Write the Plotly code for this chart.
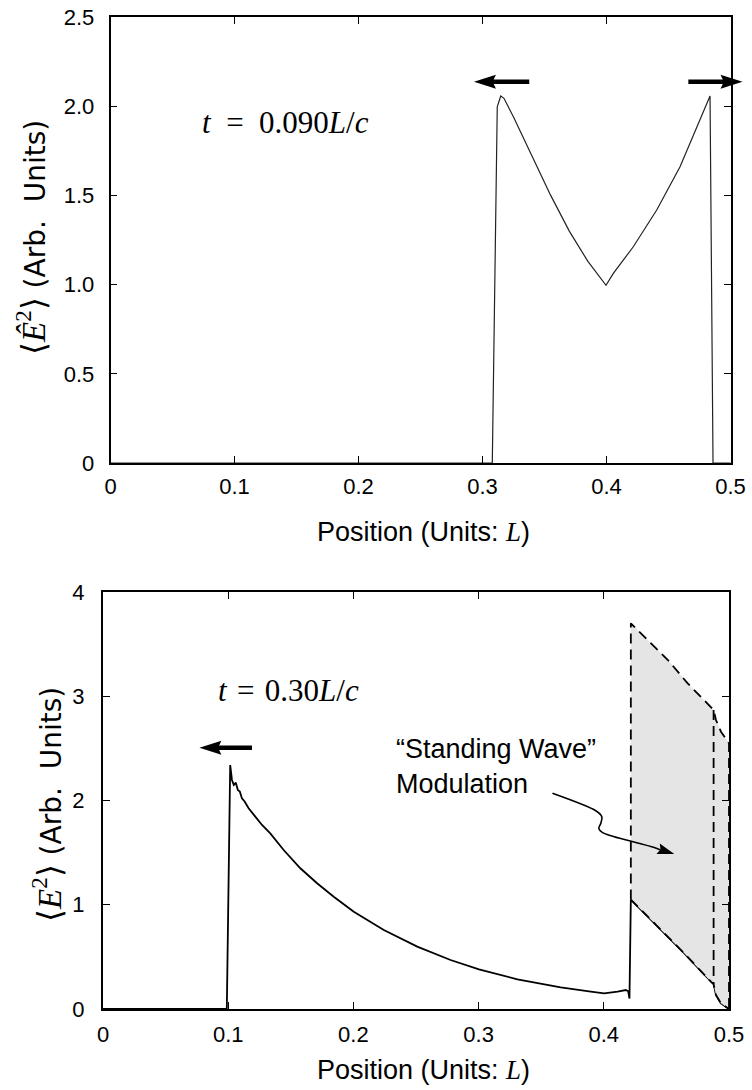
import math
import plotly.graph_objects as go

W, H = 752, 1090

# ---------------- data: top panel (t = 0.090 L/c) ----------------
top_x = [0.0, 0.3079, 0.3119, 0.3147, 0.3173, 0.325, 0.34, 0.355, 0.37, 0.385, 0.3996,
         0.4055, 0.4216, 0.4405, 0.4593, 0.4727, 0.4835, 0.4859, 0.5]
top_y = [0.0, 0.0, 1.997, 2.057, 2.044, 1.94, 1.72, 1.50, 1.30, 1.13, 0.996,
         1.063, 1.212, 1.418, 1.661, 1.885, 2.057, 0.0, 0.0]

# ---------------- data: bottom panel (t = 0.30 L/c) ----------------
bot_x = [0.0, 0.0989, 0.1016, 0.103, 0.1045, 0.1061, 0.1077, 0.1093, 0.111, 0.1131,
         0.1163, 0.1216, 0.127, 0.1336, 0.1443, 0.1576, 0.171, 0.1843, 0.2003, 0.2243,
         0.251, 0.2776, 0.3003, 0.331, 0.3656, 0.3896, 0.4003, 0.411, 0.4176, 0.4195,
         0.4205]
bot_y = [0.0, 0.0, 2.34, 2.197, 2.149, 2.171, 2.10, 2.085, 2.02, 1.99,
         1.925, 1.845, 1.765, 1.685, 1.525, 1.35, 1.206, 1.077, 0.933, 0.758,
         0.598, 0.47, 0.381, 0.285, 0.208, 0.166, 0.15, 0.166, 0.182, 0.17,
         0.10]

# lower / upper envelopes of the "standing wave" modulation
low_x = [0.4216, 0.4376, 0.4643, 0.4856, 0.4877, 0.4896, 0.4936, 0.5]
low_y = [1.05, 0.854, 0.534, 0.262, 0.24, 0.134, 0.054, 0.0]
up_x = [0.4216, 0.435, 0.451, 0.467, 0.4877, 0.4896, 0.4936, 0.5]
up_y = [3.70, 3.54, 3.35, 3.124, 2.868, 2.772, 2.66, 2.549]

# annotation pointer curve (ends at the arrow tip)
ptr_x = [0.359, 0.3936, 0.3984, 0.3976, 0.396, 0.399, 0.4083, 0.443, 0.4563]
ptr_y = [2.069, 1.902, 1.845, 1.781, 1.733, 1.691, 1.653, 1.538, 1.487]

# propagation arrows: (tail x, tip x, y)
top_arrows = [(0.3377, 0.2931, 2.137), (0.466, 0.5097, 2.137)]
bot_arrows = [(0.119, 0.077, 2.507)]

top_xticks = [0, 0.1, 0.2, 0.3, 0.4, 0.5]
top_xlabels = ["0", "0.1", "0.2", "0.3", "0.4", "0.5"]
top_yticks = [0, 0.5, 1.0, 1.5, 2.0, 2.5]
top_ylabels = ["0", "0.5", "1.0", "1.5", "2.0", "2.5"]
bot_yticks = [0, 1, 2, 3, 4]
bot_ylabels = ["0", "1", "2", "3", "4"]

SANS = "Liberation Sans, Arial, sans-serif"
SERIF = "Liberation Serif, DejaVu Serif, serif"
DASH = "10px,6px"

# plot-area boxes in pixels (left, right, top, bottom)
TOP_BOX = (110.5, 730.5, 17.0, 463.0)
BOT_BOX = (103.0, 729.0, 592.0, 1009.0)
TOP_RANGE = ([0, 0.5], [0, 2.5])
BOT_RANGE = ([0, 0.5], [0, 4])

def dom(box):
    l, r, t, b = box
    return [l / W, r / W], [1 - b / H, 1 - t / H]

def to_px(box, rng, x, y):
    l, r, t, b = box
    (x0, x1), (y0, y1) = rng
    return l + (x - x0) / (x1 - x0) * (r - l), b - (y - y0) / (y1 - y0) * (b - t)

fig = go.Figure()

fig.add_trace(go.Scatter(x=top_x, y=top_y, mode="lines", xaxis="x", yaxis="y",
                         line=dict(color="#222", width=1.2), showlegend=False,
                         hoverinfo="skip"))

# bottom: solid curve (continues along lower envelope)
fig.add_trace(go.Scatter(x=bot_x + low_x, y=bot_y + low_y, mode="lines",
                         xaxis="x2", yaxis="y2",
                         line=dict(color="black", width=1.8), showlegend=False,
                         hoverinfo="skip"))
# shaded modulation band
fig.add_trace(go.Scatter(x=up_x + low_x[::-1], y=up_y + low_y[::-1], mode="lines",
                         fill="toself", fillcolor="#e5e5e5",
                         line=dict(width=0, color="rgba(0,0,0,0)"),
                         xaxis="x2", yaxis="y2", showlegend=False, hoverinfo="skip"))
# dashed envelopes
fig.add_trace(go.Scatter(x=[low_x[0]] + up_x + [up_x[-1]], y=[low_y[0]] + up_y + [low_y[-1]],
                         mode="lines", xaxis="x2", yaxis="y2",
                         line=dict(color="black", width=1.8, dash=DASH),
                         showlegend=False, hoverinfo="skip"))
fig.add_trace(go.Scatter(x=low_x, y=low_y, mode="lines", xaxis="x2", yaxis="y2",
                         line=dict(color="black", width=1.8, dash=DASH),
                         showlegend=False, hoverinfo="skip"))
fig.add_trace(go.Scatter(x=[up_x[4], low_x[4]], y=[up_y[4], low_y[4]], mode="lines",
                         xaxis="x2", yaxis="y2",
                         line=dict(color="black", width=1.8, dash=DASH),
                         showlegend=False, hoverinfo="skip"))
# pointer curve
fig.add_trace(go.Scatter(x=ptr_x[:-1] + [ptr_x[-1] - 0.006], y=ptr_y[:-1] + [ptr_y[-1] + 0.006],
                         mode="lines", xaxis="x2", yaxis="y2",
                         line=dict(color="black", width=1.6, shape="spline", smoothing=0.8),
                         showlegend=False, hoverinfo="skip"))

shapes = []

def head_shape(tip, prev, length, half):
    """filled triangular arrow head in paper coordinates (pixel geometry)."""
    tx, ty = tip
    dx, dy = tip[0] - prev[0], tip[1] - prev[1]
    d = math.hypot(dx, dy)
    ux, uy = dx / d, dy / d
    bx, by = tx - ux * length, ty - uy * length
    nx, ny = -uy, ux
    notch = 0.15 * length
    pts = [(tx, ty), (bx + nx * half, by + ny * half), (bx + ux * notch, by + uy * notch),
           (bx - nx * half, by - ny * half)]
    path = "M " + " L ".join(f"{px / W:.5f},{1 - py / H:.5f}" for px, py in pts) + " Z"
    return dict(type="path", xref="paper", yref="paper", path=path,
                fillcolor="black", line=dict(width=0), layer="above")

def add_arrows(arrows, box, rng):
    for tail, tip, yy in arrows:
        tpx = to_px(box, rng, tail, yy)
        hpx = to_px(box, rng, tip, yy)
        sgn = 1 if hpx[0] > tpx[0] else -1
        base_x = hpx[0] - sgn * 18
        shapes.append(dict(type="line", xref="paper", yref="paper",
                           x0=tpx[0] / W, x1=base_x / W, y0=1 - tpx[1] / H, y1=1 - tpx[1] / H,
                           line=dict(color="black", width=4.5), layer="above"))
        shapes.append(head_shape(hpx, tpx, 22, 7))

add_arrows(top_arrows, TOP_BOX, TOP_RANGE)
add_arrows(bot_arrows, BOT_BOX, BOT_RANGE)
shapes.append(head_shape(to_px(BOT_BOX, BOT_RANGE, ptr_x[-1], ptr_y[-1]),
                         to_px(BOT_BOX, BOT_RANGE, ptr_x[-2], ptr_y[-2]), 17, 5.5))

def axis(domain, rng, tv, tt, anchor, lw, standoff):
    return dict(domain=domain, range=rng, tickvals=tv, ticktext=tt, anchor=anchor,
                showline=True, mirror="ticks", linecolor="black", linewidth=lw,
                ticks="inside", ticklen=7, tickwidth=1.2, tickcolor="black",
                showgrid=False, zeroline=False, fixedrange=True, automargin=False,
                ticklabelstandoff=standoff,
                tickfont=dict(family=SANS, size=22, color="black"))

tdx, tdy = dom(TOP_BOX)
bdx, bdy = dom(BOT_BOX)
fig.update_layout(
    width=W, height=H, margin=dict(l=0, r=0, t=0, b=0, pad=0, autoexpand=False),
    paper_bgcolor="white", plot_bgcolor="white",
    xaxis=axis(tdx, TOP_RANGE[0], top_xticks, top_xlabels, "y", 1.5, 3),
    yaxis=axis(tdy, TOP_RANGE[1], top_yticks, top_ylabels, "x", 1.5, 10),
    xaxis2=axis(bdx, BOT_RANGE[0], top_xticks, top_xlabels, "y2", 2, 5),
    yaxis2=axis(bdy, BOT_RANGE[1], bot_yticks, bot_ylabels, "x2", 2, 12),
    shapes=shapes,
)

ann = []
# axis titles
for yc in (532, 1070):
    ann.append(dict(xref="paper", yref="paper", x=423 / W, y=1 - yc / H,
                    text='Position (Units: <span style="font-family:Liberation Serif"><i>L</i></span>)',
                    showarrow=False, xanchor="center", yanchor="middle",
                    font=dict(family=SANS, size=27, color="black")))
MATH = '<span style="font-family:Liberation Serif;font-size:33px">\u27e8<i>{}</i><sup>2</sup>\u27e9</span>'
ann.append(dict(xref="paper", yref="paper", x=31 / W, y=1 - 238 / H, textangle=-90,
                text=MATH.format("\u00ca") + " (Arb.\u00a0 Units)",
                showarrow=False, xanchor="center", yanchor="middle",
                font=dict(family="DejaVu Sans, sans-serif", size=28, color="black")))
ann.append(dict(xref="paper", yref="paper", x=47 / W, y=1 - 805 / H, textangle=-90,
                text=MATH.format("E") + " (Arb.\u00a0 Units)",
                showarrow=False, xanchor="center", yanchor="middle",
                font=dict(family="DejaVu Sans, sans-serif", size=28, color="black")))
# time labels
ann.append(dict(xref="x", yref="y", x=0.0722, y=1.911, xanchor="left", yanchor="middle",
                text="<i>t</i>\u2002=\u20020.090<i>L</i>/<i>c</i>", showarrow=False,
                font=dict(family=SERIF, size=31, color="black")))
ann.append(dict(xref="x2", yref="y2", x=0.0904, y=3.06, xanchor="left", yanchor="middle",
                text="<i>t</i>\u2004=\u20040.30<i>L</i>/<i>c</i>", showarrow=False,
                font=dict(family=SERIF, size=31, color="black")))
# modulation label
ann.append(dict(xref="x2", yref="y2", x=0.2328, y=2.33, xanchor="left", yanchor="middle",
                align="left", text="\u201cStanding Wave\u201d<br>Modulation", showarrow=False,
                font=dict(family=SANS, size=27, color="black")))

fig.update_layout(annotations=ann)
fig.write_html("out.html", config={"displayModeBar": False, "responsive": False},
               post_script="document.body.style.margin='0';document.body.style.overflow='hidden';")
